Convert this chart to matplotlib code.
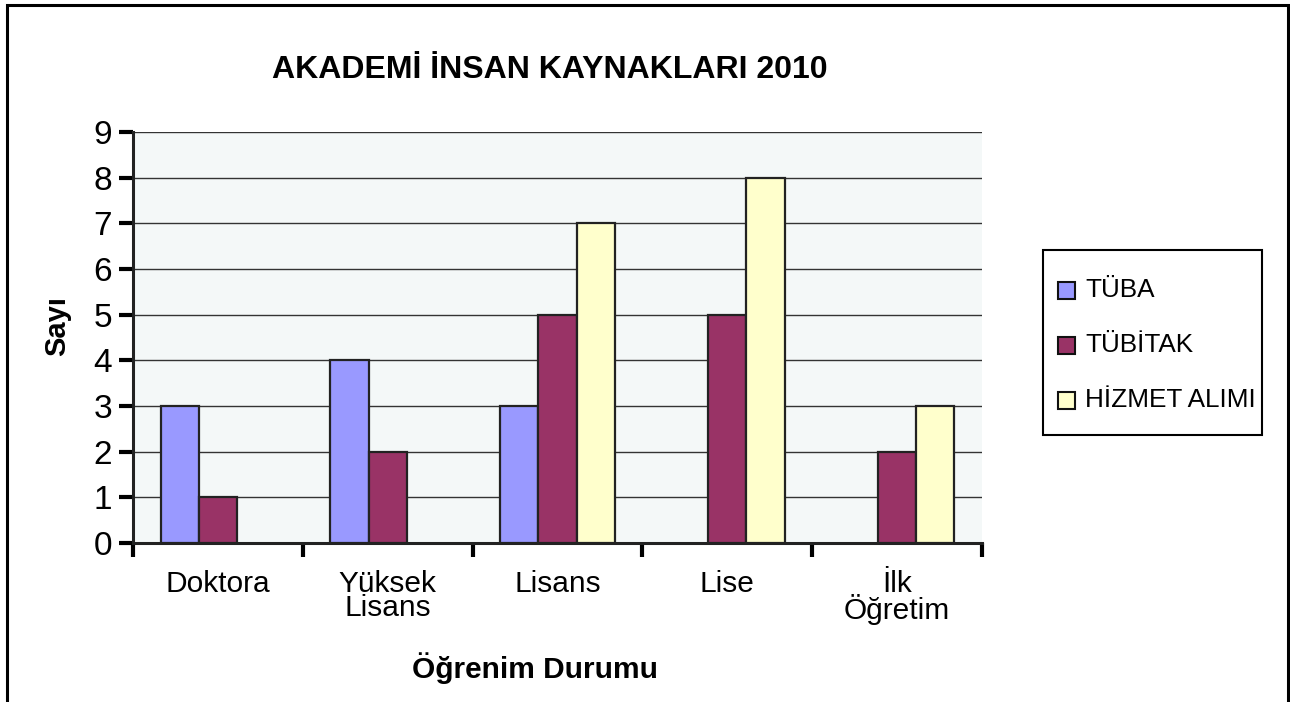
import matplotlib
matplotlib.use("Agg")
import matplotlib.pyplot as plt
import numpy as np
from matplotlib.patches import Rectangle

plt.rcParams['font.family'] = ['Liberation Sans', 'DejaVu Sans']

categories = ["Doktora", "Yüksek\nLisans", "Lisans", "Lise", "İlk\nÖğretim"]
series_names = ["TÜBA", "TÜBİTAK", "HİZMET ALIMI"]
tuba = [3, 4, 3, 0, 0]
tubitak = [1, 2, 5, 5, 2]
hizmet = [0, 0, 7, 8, 3]
colors = ["#9999FF", "#993366", "#FFFFCC"]

W, H = 1290, 702
fig = plt.figure(figsize=(W / 100, H / 100), dpi=100)

# outer border
fig.patches.append(Rectangle((7 / W, -0.05), (1288 - 7) / W, 1.05 - 5 / H,
                             transform=fig.transFigure, fill=False,
                             edgecolor="black", linewidth=2.2, clip_on=False))

left, right, top, bottom = 133, 982, 132, 543
ax = fig.add_axes([left / W, 1 - bottom / H, (right - left) / W, (bottom - top) / H])
ax.set_facecolor("#F4F8F8")

x = np.arange(len(categories))
bw = 0.225
for i, (vals, name, c) in enumerate(zip([tuba, tubitak, hizmet], series_names, colors)):
    bars = ax.bar(x + (i - 1) * bw, vals, width=bw, color=c, edgecolor="#222222",
                  linewidth=1.6, label=name, zorder=3)
    for p, v in zip(bars.patches, vals):
        if v == 0:
            p.set_visible(False)

ax.set_xlim(-0.5, len(categories) - 0.5)
ax.set_ylim(0, 9)
ax.set_yticks(range(0, 10))
ax.tick_params(axis='y', labelsize=24, length=10, width=3, pad=5, direction='out')
ax.yaxis.grid(True, color="#333333", linewidth=1.0, zorder=0)
ax.set_axisbelow(True)

ax.set_xticks(np.arange(-0.5, len(categories) + 0.5, 1.0))
ax.set_xticklabels([])
ax.tick_params(axis='x', length=10, width=3, direction='out')
for xi, lab in zip(x, categories):
    ax.text(xi, -0.6, lab, ha='center', va='top', fontsize=21.5,
            transform=ax.transData, linespacing=0.82)

for s in ["left", "bottom"]:
    ax.spines[s].set_linewidth(2.2)
    ax.spines[s].set_color("#222222")
for s in ["top", "right"]:
    ax.spines[s].set_visible(False)

fig.text(550 / W, 1 - 70 / H, "AKADEMİ İNSAN KAYNAKLARI 2010", ha='center', va='center',
         fontsize=23, fontweight='bold')
fig.text(57 / W, 1 - 326 / H, "Sayı", ha='center', va='center', rotation=90,
         fontsize=21, fontweight='bold')
fig.text(535 / W, 1 - 668 / H, "Öğrenim Durumu", ha='center', va='center',
         fontsize=21.5, fontweight='bold')

# legend (frame drawn to match the reference box)
fig.patches.append(Rectangle((1043 / W, 1 - 435 / H), (1262 - 1043) / W, (435 - 250) / H,
                             transform=fig.transFigure, fill=True, facecolor="white",
                             edgecolor="black", linewidth=1.5))
leg_y = [290, 345, 400]
hs = 17
for name, c, yy in zip(series_names, colors, leg_y):
    fig.patches.append(Rectangle((1058 / W, 1 - (yy + hs / 2) / H), hs / W, hs / H,
                                 transform=fig.transFigure, facecolor=c,
                                 edgecolor="#111111", linewidth=1.5))
    fig.text(1085 / W, 1 - yy / H, name, ha='left', va='center', fontsize=18.8)

fig.savefig("out.png", dpi=100)
